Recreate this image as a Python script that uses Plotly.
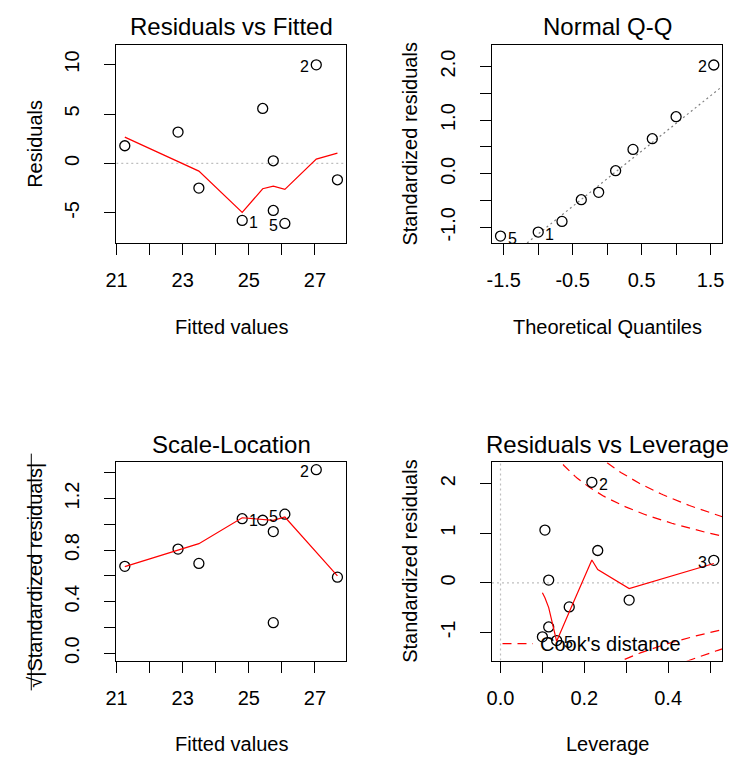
import numpy as np
import plotly.graph_objects as go

# ---------------- data ----------------
obs_id = [1, 2, 3, 4, 5, 6, 7, 8, 9, 10]
fitted = [24.80, 27.04, 21.25, 22.86, 26.09, 23.49, 25.42, 25.74, 25.74, 27.68]
residuals = [-5.76, 9.97, 1.79, 3.17, -6.06, -2.49, 5.56, 0.27, -4.75, -1.65]
std_resid = [-1.089, 2.029, 0.454, 0.653, -1.164, -0.485, 1.064, 0.056, -0.890, -0.348]
leverage = [0.100, 0.218, 0.509, 0.232, 0.134, 0.164, 0.106, 0.115, 0.115, 0.307]
# theoretical normal quantiles for the sorted standardized residuals (n = 10)
theo_quantiles = [-1.547, -1.000, -0.655, -0.375, -0.123, 0.123, 0.375, 0.655, 1.000, 1.547]

# red smoother curves
smooth_fit_x = [21.25, 22.86, 23.49, 24.80, 25.42, 25.74, 26.09, 27.04, 27.68]
smooth_resid = [2.66, 0.20, -0.77, -4.95, -2.56, -2.29, -2.62, 0.44, 1.05]
smooth_sqrt = [0.672, 0.80, 0.85, 1.051, 1.038, 1.031, 1.057, 0.784, 0.60]
smooth_lev_x = [0.100, 0.106, 0.115, 0.134, 0.164, 0.218, 0.232, 0.307, 0.509]
smooth_lev_y = [-0.20, -0.30, -0.50, -1.18, -0.59, 0.46, 0.27, -0.115, 0.39]

cook_levels = [0.5, 1]
n_params = 2

# labelled observations and the side of the label ("r" right / "l" left)
labels_rvf = {1: "r", 2: "l", 5: "l"}
labels_qq = {5: "r", 1: "r", 2: "l"}
labels_sl = {1: "r", 2: "l", 5: "l"}
labels_lev = {2: "r", 3: "l", 5: "r"}

# ---------------- helpers ----------------
W, H = 752, 758
OFF = 8  # the page body has an 8px margin; compensate so the picture lines up
FONT = "Liberation Sans, Arial, Helvetica, sans-serif"
RED = "#FF0000"


def fx(px):
    return (px - OFF) / W


def fy(py):
    return 1 - (py - OFF) / H


def r_lim(lo, hi):
    d = (hi - lo) * 0.04
    return [lo - d, hi + d]


def extend(lo, hi, f):
    d = (hi - lo) * f
    return lo - d, hi + d


boxes = {  # left, right, top, bottom (px in the screenshot)
    1: (107, 340.7, 45, 244.7),
    2: (489.3, 723.7, 45, 244.7),
    3: (107, 340.7, 464.7, 664),
    4: (489.3, 723.7, 464.7, 664),
}

fitted_a = np.array(fitted)
res_a = np.array(residuals)
std_a = np.array(std_resid)
lev_a = np.array(leverage)
sqrt_a = np.sqrt(np.abs(std_a))

xr1 = r_lim(fitted_a.min(), fitted_a.max())
yr1 = r_lim(*extend(res_a.min(), res_a.max(), 0.08))
xr2 = r_lim(min(theo_quantiles), max(theo_quantiles))
lo, hi = std_a.min(), std_a.max()
yr2 = r_lim(lo, hi + 0.075 * (hi - lo))
xr3 = xr1
yr3 = r_lim(0, sqrt_a.max())
xr4 = r_lim(0, lev_a.max())
yr4 = r_lim(*extend(std_a.min(), std_a.max(), 0.08))

fig = go.Figure()

marker = dict(symbol="circle-open", size=10, color="black", line=dict(width=1.3, color="black"))


def pts(x, y, xa, ya):
    fig.add_trace(go.Scatter(x=x, y=y, mode="markers", marker=marker, xaxis=xa, yaxis=ya,
                             showlegend=False, hoverinfo="skip"))


def line(x, y, xa, ya, color=RED, dash="solid", width=1.2):
    fig.add_trace(go.Scatter(x=x, y=y, mode="lines", line=dict(color=color, width=width, dash=dash),
                             xaxis=xa, yaxis=ya, showlegend=False, hoverinfo="skip"))


DOT = "2px,3px"

# ---- panel 1: Residuals vs Fitted
line(xr1, [0, 0], "x", "y", color="#BEBEBE", dash=DOT)
pts(fitted, residuals, "x", "y")
line(smooth_fit_x, smooth_resid, "x", "y")

# ---- panel 2: Normal Q-Q
order = np.argsort(std_a)
sorted_std = std_a[order]
q1, q3 = np.quantile(sorted_std, [0.25, 0.75])
zq = 0.6744897501960817
slope = (q3 - q1) / (2 * zq)
inter = q1 + slope * zq
qx = np.array(xr2)
line(qx, inter + slope * qx, "x2", "y2", color="#7F7F7F", dash=DOT)
pts(theo_quantiles, sorted_std, "x2", "y2")

# ---- panel 3: Scale-Location
pts(fitted, sqrt_a, "x3", "y3")
line(smooth_fit_x, smooth_sqrt, "x3", "y3")

# ---- panel 4: Residuals vs Leverage
line(xr4, [0, 0], "x4", "y4", color="#BEBEBE", dash=DOT)
line([0, 0], yr4, "x4", "y4", color="#BEBEBE", dash=DOT)
hh = np.linspace(min(lev_a.min(), lev_a.max() / 100), xr4[1], 101)
for c in cook_levels:
    cl = np.sqrt(c * n_params * (1 - hh) / hh)
    line(hh, cl, "x4", "y4", dash="9px,6px")
    line(hh, -cl, "x4", "y4", dash="9px,6px")
pts(leverage, std_resid, "x4", "y4")
line(smooth_lev_x, smooth_lev_y, "x4", "y4")

# ---------------- annotations ----------------
ann = []


def label_points(xs, ys, labs, xa, ya):
    for k, side in labs.items():
        ann.append(dict(x=xs[k], y=ys[k], xref=xa, yref=ya, text=str(k), showarrow=False,
                        xanchor="left" if side == "r" else "right",
                        xshift=5 if side == "r" else -5, yshift=-2,
                        font=dict(size=16, color="black", family=FONT)))


idx = {o: i for i, o in enumerate(obs_id)}
label_points({k: fitted[idx[k]] for k in labels_rvf}, {k: residuals[idx[k]] for k in labels_rvf},
             labels_rvf, "x", "y")
rank = {o: r for r, o in enumerate(np.array(obs_id)[order])}
label_points({k: theo_quantiles[rank[k]] for k in labels_qq}, {k: std_resid[idx[k]] for k in labels_qq},
             labels_qq, "x2", "y2")
label_points({k: fitted[idx[k]] for k in labels_sl}, {k: float(sqrt_a[idx[k]]) for k in labels_sl},
             labels_sl, "x3", "y3")
label_points({k: leverage[idx[k]] for k in labels_lev}, {k: std_resid[idx[k]] for k in labels_lev},
             labels_lev, "x4", "y4")

titles = {1: "Residuals vs Fitted", 2: "Normal Q-Q", 3: "Scale-Location", 4: "Residuals vs Leverage"}
xtitles = {1: "Fitted values", 2: "Theoretical Quantiles", 3: "Fitted values", 4: "Leverage"}
ytitles = {1: "Residuals", 2: "Standardized residuals", 3: "√|Standardized residuals|",
           4: "Standardized residuals"}

for p, (l, r, t, b) in boxes.items():
    cx = (l + r) / 2
    ann.append(dict(x=fx(cx), y=fy(t - 18), xref="paper", yref="paper", text=titles[p], showarrow=False,
                    xanchor="center", yanchor="middle", font=dict(size=24, color="black", family=FONT)))
    ann.append(dict(x=fx(cx), y=fy(b + 84), xref="paper", yref="paper", text=xtitles[p], showarrow=False,
                    xanchor="center", yanchor="middle", font=dict(size=20, color="black", family=FONT)))
    cy = (t + b) / 2 if p != 3 else 578
    ann.append(dict(x=fx(l - 83), y=fy(cy), xref="paper", yref="paper", text=ytitles[p], showarrow=False,
                    textangle=-90, xanchor="center", yanchor="middle",
                    font=dict(size=20, color="black", family=FONT)))

# Cook's distance legend
ann.append(dict(x=fx(536), y=fy(647), xref="paper", yref="paper", text="Cook's distance", showarrow=False,
                xanchor="left", yanchor="middle", font=dict(size=20, color="black", family=FONT)))

shapes = [
    dict(type="line", xref="paper", yref="paper", x0=fx(500), x1=fx(531), y0=fy(647), y1=fy(647),
         line=dict(color=RED, width=1.2, dash="9px,6px")),
    # overbar of the square-root sign
    dict(type="line", xref="paper", yref="paper", x0=fx(20.5), x1=fx(20.5), y0=fy(456), y1=fy(694),
         line=dict(color="black", width=1)),
]


# ---------------- axes ----------------
def axis_common(standoff):
    return dict(showgrid=False, zeroline=False, showline=True, mirror=True, linecolor="black",
                linewidth=1, ticks="outside", ticklen=11, tickwidth=1, tickcolor="black",
                tickfont=dict(size=20, color="black", family=FONT), ticklabelstandoff=standoff)


def fmt(vals, labelled, dec):
    return [(f"{v:.{dec}f}" if v in labelled else "") for v in vals]


x_fit_ticks = [21, 22, 23, 24, 25, 26, 27]
x_fit_text = fmt(x_fit_ticks, [21, 23, 25, 27], 0)
qx_ticks = [-1.5, -1.0, -0.5, 0.0, 0.5, 1.0, 1.5]
qx_text = fmt(qx_ticks, [-1.5, -0.5, 0.5, 1.5], 1)
qy_ticks = [-1.0, -0.5, 0.0, 0.5, 1.0, 1.5, 2.0]
qy_text = fmt(qy_ticks, [-1.0, 0.0, 1.0, 2.0], 1)
sl_ticks = [0.0, 0.2, 0.4, 0.6, 0.8, 1.0, 1.2, 1.4]
sl_text = ["0.0", "", "0.4", "", "0.8", "", "1.2", ""]
lx_ticks = [0.0, 0.1, 0.2, 0.3, 0.4, 0.5]
lx_text = ["0.0", "", "0.2", "", "0.4", ""]
ly_ticks = [-1, 0, 1, 2]
ly_text = ["-1", "0", "1", "2"]
r1y_ticks = [-5, 0, 5, 10]

layout_axes = {}
spec = {
    1: ("xaxis", "yaxis", "y", "x", xr1, yr1, x_fit_ticks, x_fit_text, r1y_ticks, [str(v) for v in r1y_ticks]),
    2: ("xaxis2", "yaxis2", "y2", "x2", xr2, yr2, qx_ticks, qx_text, qy_ticks, qy_text),
    3: ("xaxis3", "yaxis3", "y3", "x3", xr3, yr3, x_fit_ticks, x_fit_text, sl_ticks, sl_text),
    4: ("xaxis4", "yaxis4", "y4", "x4", xr4, yr4, lx_ticks, lx_text, ly_ticks, ly_text),
}
for p, (xn, yn, ya, xa, xr, yr, xt, xtt, yt, ytt) in spec.items():
    l, r, t, b = boxes[p]
    xax = axis_common(8)
    xax.update(domain=[fx(l), fx(r)], range=xr, anchor=ya, tickvals=xt, ticktext=xtt, tickangle=0)
    yax = axis_common(17)
    yax.update(domain=[fy(b), fy(t)], range=yr, anchor=xa, tickvals=yt, ticktext=ytt, tickangle=-90)
    layout_axes[xn] = xax
    layout_axes[yn] = yax

# right-hand Cook's distance level labels
xmax = min(0.99, xr4[1])
ymult = np.sqrt(n_params * (1 - xmax) / xmax)
aty = [float(np.sqrt(c) * ymult) for c in cook_levels]
layout_axes["yaxis5"] = dict(overlaying="y4", side="right", anchor="x4", range=yr4, showgrid=False,
                             zeroline=False, showline=False, ticks="",
                             tickvals=[-a for a in aty[::-1]] + aty,
                             ticktext=[str(c) for c in cook_levels[::-1]] + [str(c) for c in cook_levels],
                             tickfont=dict(size=15, color=RED, family=FONT), ticklabelstandoff=4)

fig.update_layout(
    width=W, height=H, margin=dict(l=0, r=0, t=0, b=0),
    paper_bgcolor="white", plot_bgcolor="white",
    annotations=ann, shapes=shapes, showlegend=False,
    font=dict(family=FONT, color="black"),
    **layout_axes,
)

fig.write_html("out.html")
